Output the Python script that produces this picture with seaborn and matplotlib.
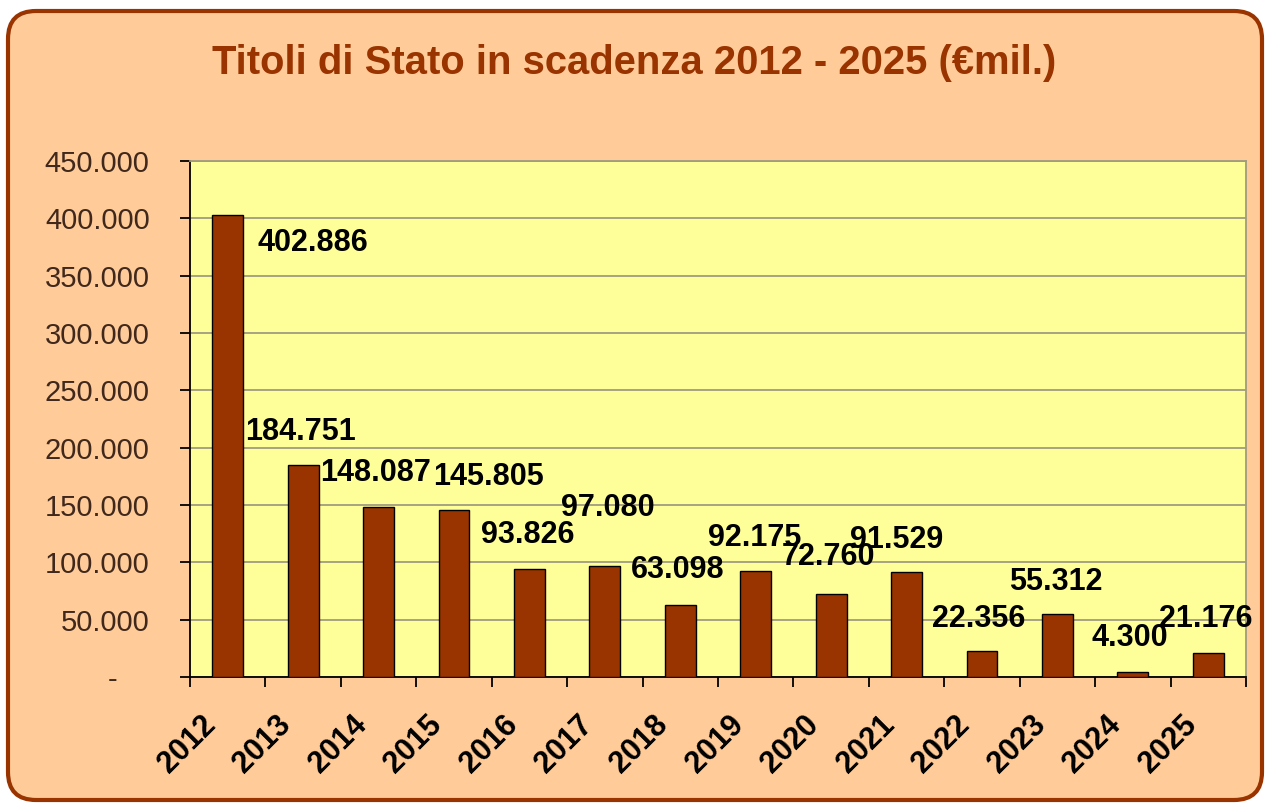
import matplotlib
matplotlib.use("Agg")
import matplotlib.pyplot as plt
import matplotlib.transforms as mtransforms
import seaborn as sns
from matplotlib.patches import FancyBboxPatch
from matplotlib.ticker import FuncFormatter, FixedLocator

# data
years = ['2012', '2013', '2014', '2015', '2016', '2017', '2018',
         '2019', '2020', '2021', '2022', '2023', '2024', '2025']
scadenze = [402886, 184751, 148087, 145805, 93826, 97080, 63098,
            92175, 72760, 91529, 22356, 55312, 4300, 21176]
y_ticks = [0, 50000, 100000, 150000, 200000, 250000, 300000, 350000, 400000, 450000]

# label placement relative to top of bar (pixels, dx right / dy up)
label_dx = [85, -3, -3, 34, -2, 3, -3, -1, -3, -10, -3, -2, -3, -3]
label_dy = [-28, 33, 34, 33, 34, 58, 35, 33, 37, 32, 32, 32, 34, 34]

BROWN = '#993300'
PEACH = '#FFCC99'
YELLOW = '#FFFF99'
GRID = '#A09C80'
TICK_TXT = '#40281C'

sns.set_style('white')
plt.rcParams['font.family'] = ['Liberation Sans', 'DejaVu Sans']

fig = plt.figure(figsize=(12.68, 8.05), dpi=100)
fig.patch.set_facecolor('white')

# rounded chart frame
frame = FancyBboxPatch((0.08, 0.05), 12.54, 7.89,
                       boxstyle='round,pad=0,rounding_size=0.28',
                       transform=fig.dpi_scale_trans,
                       facecolor=PEACH, edgecolor=BROWN, linewidth=3,
                       zorder=-5)
fig.patches.append(frame)

ax = fig.add_axes([190 / 1268, 1 - 677 / 805, 1056 / 1268, 516 / 805])
ax.set_zorder(2)
ax.set_facecolor(YELLOW)

sns.barplot(x=years, y=scadenze, color=BROWN, saturation=1, width=0.41,
            edgecolor='black', linewidth=1, ax=ax, zorder=3)

ax.set_ylim(0, 450000)
ax.set_xlim(-0.5, len(years) - 0.5)
ax.yaxis.set_major_locator(FixedLocator(y_ticks))
ax.yaxis.set_major_formatter(FuncFormatter(
    lambda v, p: '-    ' if v == 0 else f'{int(v):,}'.replace(',', '.')))
ax.grid(axis='y', color=GRID, linewidth=1.3, zorder=1)
ax.set_axisbelow(True)

for side in ['left', 'bottom']:
    ax.spines[side].set_color('black')
    ax.spines[side].set_linewidth(1.3)
for side in ['top', 'right']:
    ax.spines[side].set_color(GRID)
    ax.spines[side].set_linewidth(1.3)

ax.tick_params(axis='y', direction='out', length=7, width=1.3, color='black',
               left=True, labelsize=21, labelcolor=TICK_TXT, pad=22)
ax.set_xticks(range(len(years)))
ax.set_xticklabels(years, rotation=45, ha='right', rotation_mode='anchor',
                   fontsize=22, fontweight='bold', color='black')
ax.tick_params(axis='x', which='major', length=0, pad=18)
ax.set_xticks([i - 0.5 for i in range(len(years) + 1)], minor=True)
ax.tick_params(axis='x', which='minor', direction='out', length=7, width=1.3,
               color='black', bottom=True)
ax.set_xlabel('')
ax.set_ylabel('')

# shift the slanted year labels a bit to the left, like the original
shift = mtransforms.ScaledTranslation(-0.27, -0.08, fig.dpi_scale_trans)
for lab in ax.get_xticklabels():
    lab.set_transform(lab.get_transform() + shift)

for i, v in enumerate(scadenze):
    ax.annotate(f'{v:,}'.replace(',', '.'), xy=(i, v),
                xytext=(label_dx[i], label_dy[i]), textcoords='offset pixels',
                ha='center', va='center', fontsize=22, fontweight='bold',
                color='black', zorder=5, annotation_clip=False)

fig.text(0.5, 1 - 63 / 805, 'Titoli di Stato in scadenza 2012 - 2025 (€mil.)',
         ha='center', va='center', fontsize=28.8, fontweight='bold', color=BROWN)

fig.savefig('out.png', dpi=100, facecolor=fig.get_facecolor())
